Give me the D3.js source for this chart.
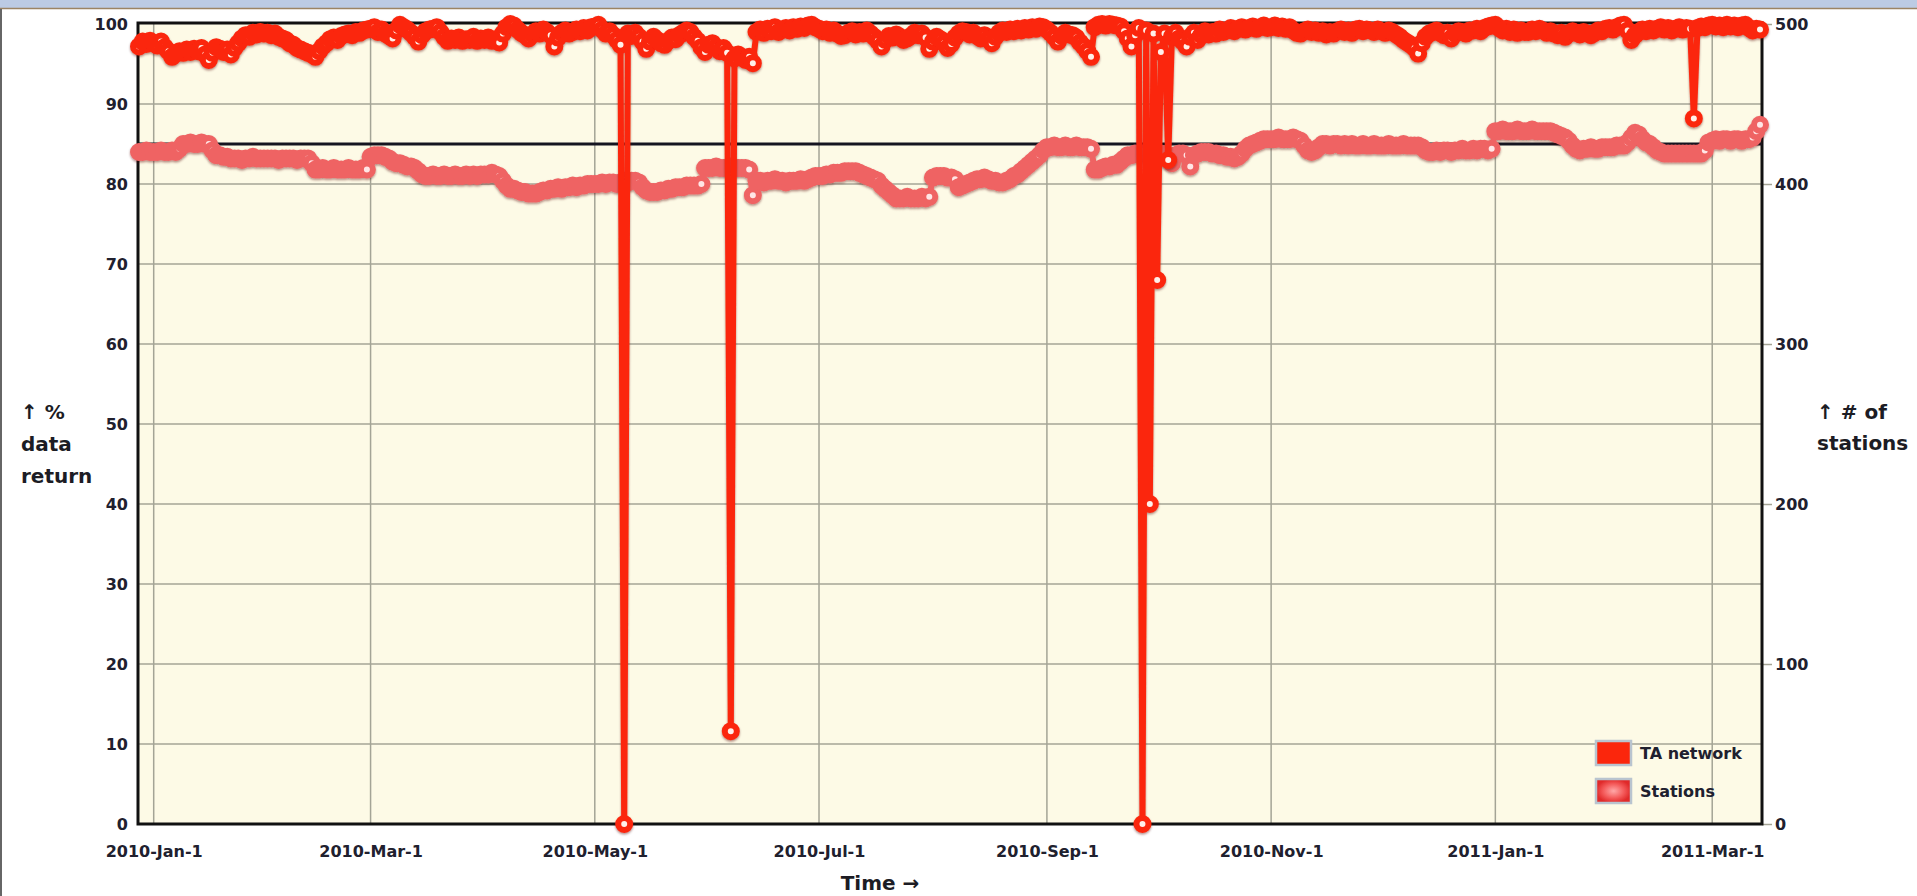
<!DOCTYPE html>
<html>
<head>
<meta charset="utf-8">
<script src="https://cdn.jsdelivr.net/npm/d3@7"></script>
<style>
body { margin: 0; background: #fff; }
svg { display: block; font-family: "DejaVu Sans", sans-serif; }
</style>
</head>
<body>
<svg id="chart" width="1917" height="896"></svg>
<script>

// first day of each block of daily values
var monthStarts = ["2009-12-28", "2010-01-01", "2010-02-01", "2010-03-01", "2010-04-01", "2010-05-01",
    "2010-06-01", "2010-07-01", "2010-08-01", "2010-09-01", "2010-10-01", "2010-11-01",
    "2010-12-01", "2011-01-01", "2011-02-01", "2011-03-01"];

// TA network, % data return, one value per day
var taNetwork = [
    [97.2, 97.8, 97.5, 97.9],
    [97.6, 97.3, 97.8, 97.1, 96.6, 95.9, 96.3, 96.6, 96.4, 96.8, 96.5, 96.9, 96.6, 97.0, 96.2, 95.5, 96.4, 97.1, 96.9, 96.5, 96.8, 96.2, 97.0, 97.6, 98.2, 98.6, 98.4, 98.9, 98.7, 99.0, 98.8],
    [98.9, 98.6, 98.8, 98.4, 98.2, 98.0, 97.6, 97.4, 97.0, 96.8, 96.6, 96.4, 96.2, 95.9, 96.6, 97.2, 97.6, 98.1, 98.3, 98.0, 98.5, 98.7, 98.8, 98.6, 99.0, 98.9, 99.2, 99.3],
    [99.4, 99.6, 99.0, 99.3, 98.8, 98.5, 98.2, 99.2, 99.9, 99.6, 99.3, 98.9, 98.4, 97.8, 98.6, 99.1, 99.3, 99.4, 99.6, 99.0, 98.4, 97.9, 98.2, 98.0, 98.3, 97.9, 98.1, 98.0, 98.4, 97.9, 98.2],
    [98.0, 98.3, 97.9, 98.1, 97.7, 98.8, 99.6, 100, 99.8, 99.3, 98.9, 98.6, 98.2, 98.7, 99.1, 98.8, 99.3, 99.0, 98.6, 97.2, 98.3, 98.9, 99.2, 98.8, 99.0, 99.3, 99.1, 99.5, 99.2, 99.6],
    [99.7, 99.9, 99.3, 98.8, 99.1, 98.6, 98.0, 97.4, 0, 98.8, 98.5, 98.9, 98.4, 97.8, 96.9, 97.8, 98.4, 98.0, 97.6, 97.4, 97.9, 98.3, 98.1, 98.6, 98.9, 99.2, 99.0, 98.4, 97.9, 97.1, 96.5],
    [97.4, 97.6, 97.1, 96.6, 97.0, 96.4, 11.6, 95.7, 96.2, 95.8, 95.5, 95.9, 95.1, 99.0, 99.3, 98.9, 99.4, 99.1, 99.6, 99.0, 99.3, 99.5, 99.2, 99.6, 99.4, 99.7, 99.5, 99.8, 99.9, 99.6],
    [99.4, 99.1, 99.3, 98.9, 99.2, 98.8, 98.5, 98.6, 98.9, 99.1, 98.7, 99.0, 98.8, 99.2, 98.8, 98.4, 97.9, 97.2, 98.0, 98.5, 98.3, 98.7, 98.4, 98.0, 98.2, 98.5, 98.9, 98.6, 98.8, 98.3, 96.9],
    [97.8, 98.4, 98.1, 97.6, 97.0, 97.5, 98.3, 98.8, 99.1, 99.0, 98.7, 98.9, 98.5, 98.2, 98.6, 98.1, 97.6, 98.4, 98.9, 99.2, 99.0, 99.3, 99.1, 99.4, 99.2, 99.5, 99.3, 99.6, 99.4, 99.7, 99.6],
    [99.3, 98.9, 98.4, 97.8, 98.5, 98.9, 98.7, 98.6, 98.3, 97.7, 97.2, 96.6, 95.9, 99.6, 99.9, 100, 99.8, 100, 99.9, 99.8, 99.7, 99.1, 98.2, 97.2, 98.6, 99.5, 0, 99.2, 40, 98.8],
    [68, 96.5, 98.8, 83, 98.4, 98.9, 98.2, 97.8, 97.2, 98.4, 98.9, 98.0, 98.6, 99.1, 98.7, 99.0, 98.8, 99.3, 99.0, 99.2, 99.5, 99.1, 99.4, 99.6, 99.3, 99.5, 99.7, 99.4, 99.6, 99.8, 99.5],
    [99.6, 99.8, 99.5, 99.7, 99.4, 99.6, 99.2, 98.9, 98.8, 99.1, 99.3, 99.0, 99.2, 98.9, 99.1, 98.7, 99.0, 98.8, 99.1, 99.3, 99.0, 99.2, 98.9, 99.3, 99.4, 99.1, 99.3, 99.2, 99.0, 99.3],
    [99.1, 98.9, 99.2, 99.0, 98.7, 98.4, 98.0, 97.7, 97.4, 97.0, 96.3, 97.6, 98.4, 98.8, 99.0, 99.2, 98.9, 98.6, 98.9, 98.2, 98.8, 99.1, 99.0, 98.8, 99.2, 99.2, 99.4, 99.1, 99.5, 99.7, 99.8],
    [99.9, 99.5, 99.2, 99.4, 99.0, 99.3, 98.9, 99.2, 99.0, 99.0, 99.3, 99.1, 99.4, 99.2, 98.9, 99.1, 98.8, 98.6, 98.9, 98.4, 98.8, 99.1, 98.9, 98.7, 99.0, 98.8, 98.6, 98.9, 99.2, 99.1, 99.4],
    [99.5, 99.3, 99.6, 99.8, 99.9, 99.2, 98.0, 98.6, 99.0, 99.3, 99.1, 99.4, 99.2, 99.4, 99.6, 99.3, 99.5, 99.2, 99.4, 99.6, 99.3, 99.5, 99.4, 88.2, 99.5, 99.7, 99.6, 99.8],
    [99.9, 99.7, 99.8, 99.6, 99.9, 99.7, 99.8, 99.6, 99.8, 99.9, 99.5, 99.2, 99.4, 99.3]
];

// number of stations, one value per day
var stations = [
    [420, 420, 421, 420],
    [420, 420, 421, 420, 420, 421, 420, 422, 425, 425, 426, 425, 425, 426, 425, 425, 421, 418, 418, 417, 417, 416, 416, 416, 415, 416, 416, 417, 416, 416, 416],
    [416, 416, 416, 415, 416, 416, 416, 416, 415, 416, 416, 416, 413, 409, 409, 410, 409, 409, 410, 409, 409, 409, 410, 409, 409, 409, 410, 409],
    [417, 418, 418, 418, 417, 416, 414, 413, 413, 412, 411, 411, 410, 408, 406, 405, 405, 406, 405, 405, 406, 405, 405, 406, 405, 405, 406, 405, 406, 405, 406],
    [406, 406, 407, 406, 405, 402, 399, 397, 397, 396, 395, 395, 394, 394, 394, 395, 396, 396, 397, 397, 398, 397, 398, 398, 399, 398, 399, 399, 400, 400],
    [400, 400, 401, 400, 401, 401, 400, 401, 402, 401, 402, 402, 401, 398, 396, 395, 395, 395, 396, 396, 397, 397, 398, 398, 398, 399, 399, 399, 399, 400, 410],
    [410, 410, 411, 410, 410, 410, 411, 410, 410, 410, 410, 409, 393, 402, 402, 401, 402, 402, 403, 402, 402, 401, 402, 402, 402, 403, 402, 403, 404, 405],
    [405, 405, 406, 406, 407, 407, 407, 408, 408, 408, 408, 407, 406, 405, 404, 403, 402, 399, 397, 395, 393, 391, 391, 391, 392, 391, 391, 391, 392, 391, 392],
    [404, 405, 405, 405, 404, 404, 403, 398, 399, 400, 401, 402, 403, 403, 404, 403, 402, 402, 401, 401, 402, 403, 405, 406, 408, 410, 412, 414, 416, 418, 421],
    [423, 423, 424, 423, 423, 424, 423, 423, 424, 423, 423, 423, 422, 409, 409, 410, 411, 411, 412, 412, 414, 416, 418, 418, 419, 419, 419, 419, 419, 419],
    [419, 419, 418, 417, 413, 418, 419, 419, 418, 411, 418, 419, 420, 420, 420, 419, 419, 418, 418, 417, 417, 416, 417, 419, 422, 424, 425, 426, 427, 428, 428],
    [428, 428, 429, 428, 428, 428, 429, 428, 427, 424, 421, 420, 421, 423, 425, 425, 424, 425, 425, 424, 425, 424, 425, 424, 424, 425, 424, 424, 425, 424],
    [424, 424, 425, 424, 424, 424, 425, 424, 424, 424, 424, 423, 421, 420, 420, 421, 420, 421, 421, 420, 421, 421, 422, 421, 421, 422, 421, 422, 422, 421, 422],
    [433, 433, 434, 433, 433, 433, 434, 433, 433, 433, 434, 433, 433, 433, 433, 433, 432, 431, 430, 429, 427, 424, 422, 421, 422, 422, 423, 422, 422, 423, 423],
    [423, 423, 424, 424, 424, 426, 429, 432, 431, 428, 426, 425, 423, 421, 420, 419, 419, 419, 419, 419, 419, 419, 419, 419, 419, 419, 421, 426],
    [427, 428, 427, 428, 428, 427, 428, 428, 427, 428, 428, 429, 433, 437]
];

var pctTicks = [0, 10, 20, 30, 40, 50, 60, 70, 80, 90, 100];
var stationTicks = [0, 100, 200, 300, 400, 500];
var targetPct = 85;
var seriesNames = ["TA network", "Stations"];

var parseDay = d3.timeParse("%Y-%m-%d");

function toDaily(byMonth) {
    var out = [];
    byMonth.forEach(function (vals, m) {
        var start = parseDay(monthStarts[m]);
        vals.forEach(function (v, i) {
            out.push({date: d3.timeDay.offset(start, i), value: v});
        });
    });
    return out;
}

var taData = toDaily(taNetwork),
        stData = toDaily(stations);

var svg = d3.select("#chart");

var plotL = 138, plotR = 1762, plotT = 24, plotB = 824;

var x = d3.scaleTime().domain(d3.extent(taData, function (d) {
    return d.date;
})).range([plotL + 1, plotR - 2]);
var y = d3.scaleLinear().domain([0, 100]).range([plotB, plotT]);
var yR = d3.scaleLinear().domain([0, 500]).range([plotB, plotT]);

var defs = svg.append("defs");
var shadow = defs.append("filter").attr("id", "shade")
        .attr("filterUnits", "userSpaceOnUse")
        .attr("x", 0).attr("y", 0).attr("width", 1917).attr("height", 896);
shadow.append("feDropShadow").attr("dx", 0).attr("dy", 1.5).attr("stdDeviation", 1)
        .attr("flood-color", "#500").attr("flood-opacity", 0.45);

var grad = defs.append("radialGradient").attr("id", "stGrad");
grad.append("stop").attr("offset", "0%").attr("stop-color", "#ffa8a8");
grad.append("stop").attr("offset", "60%").attr("stop-color", "#f45a5a");
grad.append("stop").attr("offset", "100%").attr("stop-color", "#e02a2a");

// window bits around the chart
svg.append("rect").attr("x", 0).attr("y", 0).attr("width", 1917).attr("height", 8).attr("fill", "#bccbe4");
svg.append("line").attr("x1", 0).attr("x2", 1917).attr("y1", 8.5).attr("y2", 8.5)
        .attr("stroke", "#9c8464").attr("stroke-width", 1.5);
svg.append("line").attr("x1", 1).attr("x2", 1).attr("y1", 9).attr("y2", 896)
        .attr("stroke", "#666").attr("stroke-width", 2);

// plot background
svg.append("rect").attr("x", plotL).attr("y", plotT - 1)
        .attr("width", plotR - plotL).attr("height", plotB - plotT + 1)
        .attr("fill", "#fdfae6");

// grid
var grid = svg.append("g").attr("stroke", "#a4a496").attr("stroke-width", 1.5);
grid.selectAll(".hgrid")
        .data(pctTicks.slice(1, -1))
        .enter().append("line")
        .attr("x1", plotL).attr("x2", plotR)
        .attr("y1", function (d) {
            return y(d);
        })
        .attr("y2", function (d) {
            return y(d);
        });
grid.selectAll(".vgrid")
        .data(x.ticks(d3.timeMonth.every(2)))
        .enter().append("line")
        .attr("y1", plotT).attr("y2", plotB)
        .attr("x1", function (d) {
            return x(d);
        })
        .attr("x2", function (d) {
            return x(d);
        });

// axes
var axisFont = function (g) {
    g.selectAll("text").attr("font-size", 16).attr("font-weight", "bold")
            .attr("font-family", "DejaVu Sans, sans-serif").attr("fill", "#20202e");
    g.select(".domain").remove();
};

svg.append("g").attr("transform", "translate(" + plotL + ",0)")
        .call(d3.axisLeft(y).tickValues(pctTicks).tickSize(0).tickPadding(10))
        .call(axisFont);

svg.append("g").attr("transform", "translate(" + plotR + ",0)")
        .call(d3.axisRight(yR).tickValues(stationTicks).tickSize(10).tickPadding(3))
        .call(axisFont)
        .selectAll("line").attr("stroke", "#a4a496").attr("stroke-width", 1.5);

svg.append("g").attr("transform", "translate(0," + plotB + ")")
        .call(d3.axisBottom(x).ticks(d3.timeMonth.every(2))
                .tickFormat(d3.timeFormat("%Y-%b-%-d")).tickSize(0).tickPadding(22))
        .call(axisFont);

// frame
svg.append("rect").attr("x", plotL).attr("y", plotT - 1)
        .attr("width", plotR - plotL).attr("height", plotB - plotT + 1)
        .attr("fill", "none").attr("stroke", "#111").attr("stroke-width", 3);

// 85% target line
svg.append("line")
        .attr("x1", plotL).attr("x2", plotR)
        .attr("y1", y(targetPct)).attr("y2", y(targetPct))
        .attr("stroke", "#151520").attr("stroke-width", 3);

// series
function drawSeries(data, yScale, color, fill) {
    var g = svg.append("g").attr("filter", "url(#shade)");
    g.append("path")
            .datum(data)
            .attr("fill", "none")
            .attr("stroke", color)
            .attr("stroke-width", 6)
            .attr("stroke-linejoin", "round")
            .attr("d", d3.line()
                    .x(function (d) {
                        return x(d.date);
                    })
                    .y(function (d) {
                        return yScale(d.value);
                    }));
    g.selectAll("circle")
            .data(data)
            .enter().append("circle")
            .attr("cx", function (d) {
                return x(d.date);
            })
            .attr("cy", function (d) {
                return yScale(d.value);
            })
            .attr("r", 6)
            .attr("fill", fill)
            .attr("stroke", color)
            .attr("stroke-width", 6);
}

drawSeries(stData, yR, "#ef6464", "#ffe6e6");
drawSeries(taData, y, "#fb260c", "#fff0ea");

// axis titles
var titles = svg.append("g").attr("font-size", 20).attr("font-weight", "bold").attr("fill", "#1c1c24");
titles.selectAll(".lt")
        .data(["\u2191 %", "data", "return"])
        .enter().append("text")
        .attr("x", 21)
        .attr("y", function (d, i) {
            return 419 + i * 32;
        })
        .text(function (d) {
            return d;
        });
titles.selectAll(".rt")
        .data(["\u2191 # of", "stations"])
        .enter().append("text")
        .attr("x", 1817)
        .attr("y", function (d, i) {
            return 419 + i * 31;
        })
        .text(function (d) {
            return d;
        });
titles.append("text").attr("x", 880).attr("y", 890).attr("text-anchor", "middle").text("Time \u2192");

// legend
var legend = svg.append("g").attr("transform", "translate(1596,741)");
var items = legend.selectAll("g")
        .data(seriesNames)
        .enter().append("g")
        .attr("transform", function (d, i) {
            return "translate(0," + (i * 38) + ")";
        });
items.append("rect")
        .attr("width", 35).attr("height", 24)
        .attr("fill", function (d, i) {
            return i === 0 ? "#fb260c" : "url(#stGrad)";
        })
        .attr("stroke", "#b9c4cf").attr("stroke-width", 2.5);
items.append("text")
        .attr("x", 44).attr("y", 12).attr("dy", "0.35em")
        .attr("font-size", 16).attr("font-weight", "bold").attr("fill", "#20202e")
        .text(function (d) {
            return d;
        });

</script>
</body>
</html>
